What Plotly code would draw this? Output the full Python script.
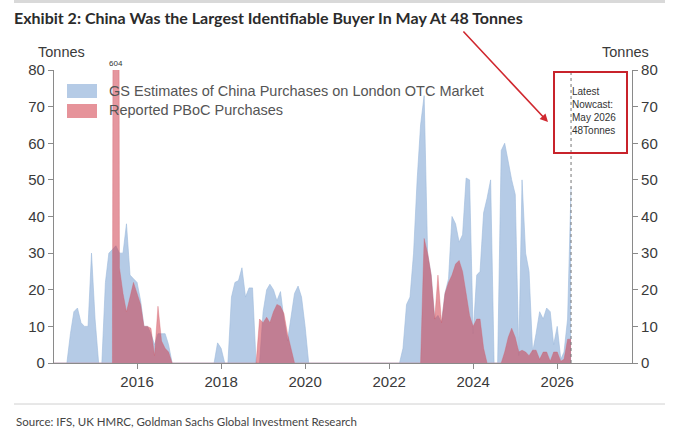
import pandas as pd
import plotly.graph_objects as go

# Monthly dates: Jan 2014 .. May 2026
dates = pd.date_range("2014-01-01", "2026-05-01", freq="MS")

# GS estimates of China purchases on London OTC market (tonnes)
gs_estimates = [
    0, 0, 0, 0, 0, 8, 14, 15, 11, 10, 10, 30,          # 2014
    12, 0, 0, 22, 30, 31, 32, 30, 30, 38, 24, 23,     # 2015
    22, 17, 10, 10, 8, 5, 8, 8, 8, 5, 0, 0,            # 2016
    0, 0, 0, 0, 0, 0, 0, 0, 0, 0, 0, 5.5,              # 2017
    4, 0, 0, 18, 22, 22.5, 26, 18, 20.5, 20.5, 0, 0,   # 2018
    14, 20, 21.5, 20, 17, 19.5, 12, 6, 12, 19, 21, 18, # 2019
    10, 0, 0, 0, 0, 0, 0, 0, 0, 0, 0, 0,               # 2020
    0, 0, 0, 0, 0, 0, 0, 0, 0, 0, 0, 0,                # 2021
    0, 0, 0, 0, 4, 16, 18, 30, 50, 65, 73, 30,         # 2022
    24, 12, 13, 11, 19, 23, 40, 38, 33, 35, 50.5, 50,  # 2023
    8, 24, 25, 41, 45, 50, 0, 0, 58, 60, 55, 50,       # 2024
    46, 2, 50, 30, 25, 3, 8, 14, 12, 15, 14, 5,        # 2025
    10, 1, 3, 12, 48,                                  # 2026
]

# Reported PBoC purchases (tonnes)
pboc_reported = [
    0, 0, 0, 0, 0, 0, 0, 0, 0, 0, 0, 0,                # 2014
    0, 0, 0, 0, 0, 0, 604, 26, 19, 14, 18, 22,         # 2015
    19, 16, 10, 10, 9.5, 2, 15.5, 6, 4, 3, 0, 0,       # 2016
    0, 0, 0, 0, 0, 0, 0, 0, 0, 0, 0, 0,                # 2017
    0, 0, 0, 0, 0, 0, 0, 0, 0, 0, 0, 12,               # 2018
    11, 12.5, 11, 14, 16, 15.5, 13.5, 8, 4, 0, 0, 0,   # 2019
    0, 0, 0, 0, 0, 0, 0, 0, 0, 0, 0, 0,                # 2020
    0, 0, 0, 0, 0, 0, 0, 0, 0, 0, 0, 0,                # 2021
    0, 0, 0, 0, 0, 0, 0, 0, 0, 0, 34, 30,              # 2022
    24, 12, 24, 11, 19, 22, 24, 27, 28, 25, 19, 13,    # 2023
    10, 12, 12, 4, 0, 0, 0, 0, 0, 3, 7, 9.5,           # 2024
    7, 3, 3.5, 3, 2, 3.5, 3.5, 1, 3, 3, 0.5, 3,        # 2025
    3, 0.5, 1, 6.5, 6.5,                               # 2026
]

year_ticks = ["2016-01-01", "2018-01-01", "2020-01-01", "2022-01-01", "2024-01-01", "2026-01-01"]
year_labels = ["2016", "2018", "2020", "2022", "2024", "2026"]
y_ticks = [0, 10, 20, 30, 40, 50, 60, 70, 80]

series_names = ["GS Estimates of China Purchases on London OTC Market", "Reported PBoC Purchases"]
spike_label = "604"
nowcast_date = "2026-05-01"
nowcast_text = "Latest<br>Nowcast:<br>May 2026<br>48Tonnes"

BLUE_FILL = "rgba(168,194,226,0.85)"
BLUE_LINE = "rgba(158,186,220,1)"
RED_FILL = "rgba(205,55,70,0.52)"
RED_LINE = "rgba(210,90,100,0.7)"

fig = go.Figure()
fig.add_trace(go.Scatter(x=dates, y=gs_estimates, mode="lines", fill="tozeroy",
                         fillcolor=BLUE_FILL, line=dict(color=BLUE_LINE, width=0.6),
                         name=series_names[0], showlegend=False))
fig.add_trace(go.Scatter(x=dates, y=pboc_reported, mode="lines", fill="tozeroy",
                         fillcolor=RED_FILL, line=dict(color=RED_LINE, width=0.5),
                         name=series_names[1], showlegend=False))
# invisible trace to activate right axis
fig.add_trace(go.Scatter(x=[dates[0]], y=[0], yaxis="y2", mode="markers",
                         marker=dict(opacity=0), showlegend=False, hoverinfo="skip"))

L, R, T, B = 54, 47, 70, 68
W, H = 679, 431
pw, ph = W - L - R, H - T - B
def px(xp):
    return (xp - L) / pw
def py(yp):
    return (H - B - yp) / ph

axis_col = "#8a8a8a"
tick_font = dict(family="Liberation Sans, Arial, sans-serif", size=15, color="#3a3a3a")

fig.update_layout(
    width=W, height=H,
    margin=dict(l=L, r=R, t=T, b=B),
    paper_bgcolor="white", plot_bgcolor="white",
    title=dict(text="<b>Exhibit 2: China Was the Largest Identifiable Buyer In May At 48 Tonnes</b>",
               x=14 / W, xanchor="left", xref="container",
               y=1 - 18 / H, yanchor="middle", yref="container",
               font=dict(family="Lato, Open Sans, sans-serif", size=16, color="#2b2b2b")),
    xaxis=dict(type="date", range=["2014-01-09", "2027-10-13"],
               tickvals=year_ticks, ticktext=year_labels,
               ticks="outside", ticklen=5, tickcolor=axis_col, tickwidth=1,
               showline=True, linecolor=axis_col, linewidth=1.2,
               showgrid=False, zeroline=False, tickfont=tick_font),
    yaxis=dict(range=[0, 80], tickvals=y_ticks, ticks="outside", ticklen=5,
               tickcolor=axis_col, showline=True, linecolor=axis_col, linewidth=1.2,
               showgrid=False, zeroline=False, tickfont=tick_font),
    yaxis2=dict(range=[0, 80], tickvals=y_ticks, ticks="outside", ticklen=5,
                tickcolor=axis_col, showline=True, linecolor=axis_col, linewidth=1.2,
                showgrid=False, zeroline=False, tickfont=tick_font,
                overlaying="y", side="right"),
    showlegend=False,
)

label_font = dict(family="Liberation Sans, Arial, sans-serif", size=14.5, color="#3a3a3a")
legend_font = dict(family="Liberation Sans, Arial, sans-serif", size=14.5, color="#555555")

shapes = [
    # top grey band
    dict(type="line", xref="paper", yref="paper", x0=px(14), x1=px(665), y0=py(1.5), y1=py(1.5),
         line=dict(color="#d9d9d9", width=3)),
    # separator above source
    dict(type="line", xref="paper", yref="paper", x0=px(14), x1=px(665), y0=py(404), y1=py(404),
         line=dict(color="#d0d0d0", width=1)),
    # legend swatches
    dict(type="rect", xref="paper", yref="paper", x0=px(67), x1=px(97), y0=py(84), y1=py(98),
         fillcolor=BLUE_FILL, line=dict(width=0)),
    dict(type="rect", xref="paper", yref="paper", x0=px(67), x1=px(97), y0=py(104), y1=py(118),
         fillcolor="rgba(226,128,136,0.85)", line=dict(width=0)),
    # nowcast dotted line
    dict(type="line", xref="x", yref="paper", x0=nowcast_date, x1=nowcast_date, y0=0, y1=1,
         line=dict(color="#777777", width=1, dash="dot")),
    # red box
    dict(type="rect", xref="paper", yref="paper", x0=px(554), x1=px(627), y0=py(72), y1=py(153),
         line=dict(color="#c8232b", width=2), fillcolor="rgba(0,0,0,0)"),
]
fig.update_layout(shapes=shapes)

annotations = [
    dict(text="Tonnes", xref="paper", yref="paper", x=px(61), y=py(52), showarrow=False,
         xanchor="center", yanchor="middle", font=label_font),
    dict(text="Tonnes", xref="paper", yref="paper", x=px(625), y=py(52), showarrow=False,
         xanchor="center", yanchor="middle", font=label_font),
    dict(text=series_names[0], xref="paper", yref="paper", x=px(107), y=py(91), showarrow=False,
         xanchor="left", yanchor="middle", font=legend_font),
    dict(text=series_names[1], xref="paper", yref="paper", x=px(107), y=py(110), showarrow=False,
         xanchor="left", yanchor="middle", font=legend_font),
    dict(text=spike_label, xref="x", yref="paper", x=dates[18], y=py(63), showarrow=False,
         xanchor="center", yanchor="middle",
         font=dict(family="Liberation Sans, Arial, sans-serif", size=8, color="#333333")),
    dict(text=nowcast_text, xref="x", yref="paper", x=nowcast_date, y=py(111), showarrow=False,
         xanchor="left", yanchor="middle", align="left", xshift=-1,
         font=dict(family="Liberation Sans Narrow, Liberation Sans, Arial, sans-serif", size=10, color="#333333")),
    dict(text="", xref="paper", yref="paper", x=px(548), y=py(122), showarrow=True,
         ax=462 - 548, ay=30 - 122, arrowcolor="#d0282f", arrowwidth=1.6, arrowhead=2, arrowsize=1),
    dict(text="Source: IFS, UK HMRC, Goldman Sachs Global Investment Research", xref="paper", yref="paper",
         x=px(14), y=py(421), showarrow=False, xanchor="left", yanchor="middle",
         font=dict(family="Lato, Open Sans, sans-serif", size=11.5, color="#444444")),
]
fig.update_layout(annotations=annotations)

fig.write_html("out.html")
